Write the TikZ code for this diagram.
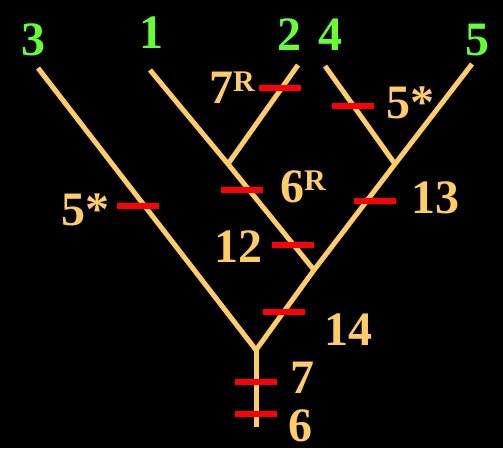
\documentclass[tikz,border=0pt]{standalone}
\usepackage{fontspec}
\setmainfont{Liberation Serif}
\definecolor{tan}{HTML}{FFCC66}
\definecolor{leafgreen}{HTML}{66FF33}
\definecolor{tickred}{HTML}{FF0000}
\begin{document}
\begin{tikzpicture}[x=1pt,y=-1pt,
  branch/.style={draw=tan,line width=5pt},
  tick/.style={fill=tickred,draw=none,inner sep=0pt,minimum width=42pt,minimum height=6pt,rectangle},
  leaf/.style={text=leafgreen,font=\fontsize{48}{48}\selectfont\bfseries,inner sep=0pt,anchor=base},
  lbl/.style={text=tan,font=\fontsize{48}{48}\selectfont\bfseries,inner sep=0pt,anchor=base west}]
\fill[black] (0,0) rectangle (503,448);
\useasboundingbox (0,0) rectangle (503,448);
% tree points
\coordinate (t3) at (38,68);
\coordinate (t1) at (150,70);
\coordinate (t2) at (298,65);
\coordinate (t4) at (325,66);
\coordinate (t5) at (472,64);
\coordinate (a) at (228,164);
\coordinate (b) at (395,164);
\coordinate (c) at (314,270);
\coordinate (r) at (256,350);
\coordinate (bot) at (256,427);
\draw[branch] (t3) -- (r);
\draw[branch] (t1) -- (a) -- (c);
\draw[branch] (t2) -- (a);
\draw[branch] (t4) -- (b);
\draw[branch] (t5) -- (b) -- (c) -- (r);
\draw[branch] (r) -- (bot);
% ticks
\node[tick] (k1) at (138,206) {};
\node[tick] (k2) at (280,88) {};
\node[tick] (k3) at (353,106) {};
\node[tick] (k4) at (242,190) {};
\node[tick] (k5) at (375,201) {};
\node[tick] (k6) at (293,245) {};
\node[tick] (k7) at (284,312) {};
\node[tick] (k8) at (256,382) {};
\node[tick] (k9) at (256,414) {};
% leaf labels
\node[leaf] (l3) at (33,55) {3};
\node[leaf] (l1) at (151,48) {1};
\node[leaf] (l2) at (289,50) {2};
\node[leaf] (l4) at (330,50) {4};
\node[leaf] (l5) at (477,55) {5};
% character labels
\newcommand{\supR}{\raisebox{12pt}{\fontsize{30}{30}\selectfont R}}
\node[lbl] (m7r) at (209,103) {7\supR};
\node[lbl] (m5a) at (61,225) {5*};
\node[lbl] (m5b) at (386,118) {5*};
\node[lbl] (m6r) at (280,202) {6\supR};
\node[lbl] (m13) at (411,213) {13};
\node[lbl] (m12) at (214,262) {12};
\node[lbl] (m14) at (324,345) {14};
\node[lbl] (m7) at (290,393) {7};
\node[lbl] (m6) at (288,441) {6};
\end{tikzpicture}
\end{document}
